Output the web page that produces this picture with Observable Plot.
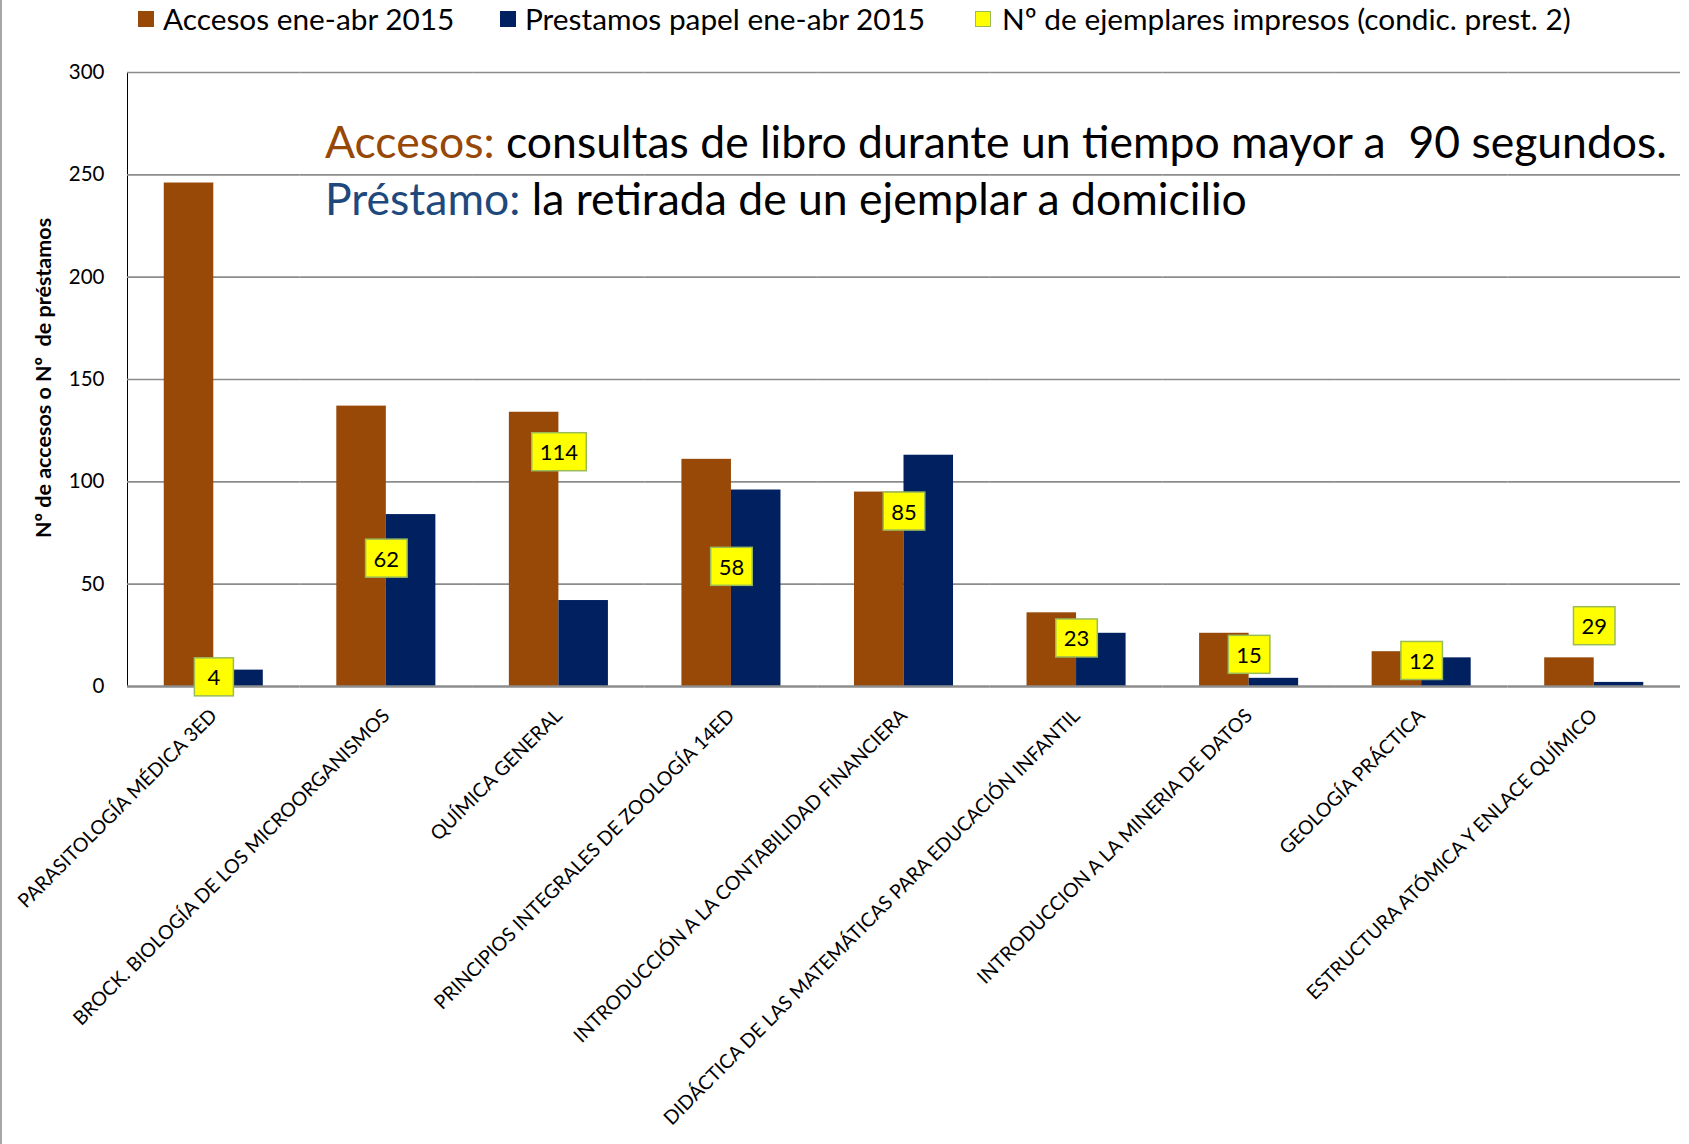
<!DOCTYPE html>
<html><head><meta charset="utf-8">
<script src="https://cdn.jsdelivr.net/npm/d3@7"></script>
<script src="https://cdn.jsdelivr.net/npm/@observablehq/plot@0.6"></script>
<style>
html,body{margin:0;padding:0;background:#fff;}
body{width:1689px;height:1144px;overflow:hidden;font-family:Lato,"Open Sans",sans-serif;color:#000;}
#wrap{position:relative;width:1689px;height:1144px;}
#edge{position:absolute;left:0;top:0;width:2px;height:1144px;background:#a6a6a6;}
.leg{position:absolute;top:4px;font-size:29.8px;line-height:1;white-space:pre;}
.sw{position:absolute;top:11px;width:16px;height:16px;box-sizing:border-box;}
#plot{position:absolute;left:0;top:44px;}
.note{position:absolute;left:325px;font-size:44.5px;line-height:1;white-space:pre;}
#ytitle{position:absolute;left:43px;top:378px;transform:translate(-50%,-50%) rotate(-90deg);font-weight:bold;font-size:21.5px;white-space:pre;}
#plot g[aria-label^="y-axis"]{color:#8c8c8c;}
#plot g[aria-label^="y-axis"] text{fill:#000;font-size:20.5px;}
#plot g[aria-label^="y-axis"] path, #plot g[aria-label^="y-axis"] line{stroke-width:2.5px;}
#plot g[aria-label^="fx-axis"] text{font-size:19.5px;fill:#000;}
</style>
</head><body>
<div id="wrap">
  <div id="edge"></div>
  <div class="sw" style="left:138px;background:#984807"></div>
  <div class="leg" id="leg1" style="left:163px"></div>
  <div class="sw" style="left:500px;background:#002060"></div>
  <div class="leg" id="leg2" style="left:525px"></div>
  <div class="sw" style="left:975px;background:#ffff00;border:1.5px solid #9bbb59"></div>
  <div class="leg" id="leg3" style="left:1002px"></div>
  <div id="plot"></div>
  <div class="note" style="top:119px"><span style="color:#974706">Accesos:</span> consultas de libro durante un tiempo mayor a  90 segundos.</div>
  <div class="note" style="top:176px"><span style="color:#1f497d">Préstamo:</span> la retirada de un ejemplar a domicilio</div>
  <div id="ytitle"></div>
</div>
<script>
const categories = [
  "PARASITOLOGÍA MÉDICA 3ED",
  "BROCK. BIOLOGÍA DE LOS MICROORGANISMOS",
  "QUÍMICA GENERAL",
  "PRINCIPIOS INTEGRALES DE ZOOLOGÍA 14ED",
  "INTRODUCCIÓN A LA CONTABILIDAD FINANCIERA",
  "DIDÁCTICA DE LAS MATEMÁTICAS PARA EDUCACIÓN INFANTIL",
  "INTRODUCCION A LA MINERIA DE DATOS",
  "GEOLOGÍA PRÁCTICA",
  "ESTRUCTURA ATÓMICA Y ENLACE QUÍMICO"
];
const accesos = [246, 137, 134, 111, 95, 36, 26, 17, 14];
const prestamos = [8, 84, 42, 96, 113, 26, 4, 14, 2];
const ejemplares = [4, 62, 114, 58, 85, 23, 15, 12, 29];
const series = ["Accesos ene-abr 2015", "Prestamos papel ene-abr 2015"];
const labelSeries = "Nº de ejemplares impresos (condic. prest. 2)";
const yTicks = [0, 50, 100, 150, 200, 250, 300];
const yTitle = "Nº de accesos o Nº  de préstamos";

document.getElementById("leg1").textContent = series[0];
document.getElementById("leg2").textContent = series[1];
document.getElementById("leg3").textContent = labelSeries;
document.getElementById("ytitle").textContent = yTitle;

const bars = categories.flatMap((c, i) => [
  {category: c, series: series[0], value: accesos[i]},
  {category: c, series: series[1], value: prestamos[i]}
]);
const labels = categories.map((c, i) => ({category: c, copies: ejemplares[i]}));

const chart = Plot.plot({
  width: 1689, height: 1100,
  marginLeft: 127, marginRight: 9, marginTop: 28, marginBottom: 458,
  style: {fontFamily: "Lato, 'Open Sans', sans-serif", fontSize: "20px", color: "#000", background: "transparent", overflow: "visible"},
  fx: {domain: categories, padding: 0, round: false, label: null, axis: "bottom", tickRotate: -45, tickSize: 0, tickPadding: 26},
  x: {domain: series, paddingInner: 0, paddingOuter: 0.742, round: false, axis: null},
  y: {domain: [0, 300], ticks: yTicks, tickSize: 0, tickPadding: 23, label: null, line: true},
  color: {domain: series, range: ["#984807", "#002060"]},
  marks: [
    Plot.ruleY(yTicks.slice(1), {stroke: "#8c8c8c", strokeWidth: 1.6}),
    Plot.barY(bars, {fx: "category", x: "series", y: "value", fill: "series"}),
    Plot.ruleY([0], {stroke: "#8c8c8c", strokeWidth: 2.5}),
    Plot.text(labels, {fx: "category", y: "copies", text: d => String(d.copies), fontSize: 22, fill: "#000"})
  ]
});
document.getElementById("plot").append(chart);

const NS = "http://www.w3.org/2000/svg";
chart.querySelectorAll('g[aria-label="text"] text').forEach(t => {
  const b = t.getBBox();
  const w = Math.max(b.width + 16, 39), h = 38;
  const r = document.createElementNS(NS, "rect");
  const tr = t.getAttribute("transform");
  if (tr) r.setAttribute("transform", tr);
  r.setAttribute("x", b.x + b.width / 2 - w / 2);
  r.setAttribute("y", b.y + b.height / 2 - h / 2);
  r.setAttribute("width", w);
  r.setAttribute("height", h);
  r.setAttribute("fill", "#ffff00");
  r.setAttribute("stroke", "#9bbb59");
  r.setAttribute("stroke-width", 1.5);
  t.parentNode.insertBefore(r, t);
});
</script>
</body></html>
